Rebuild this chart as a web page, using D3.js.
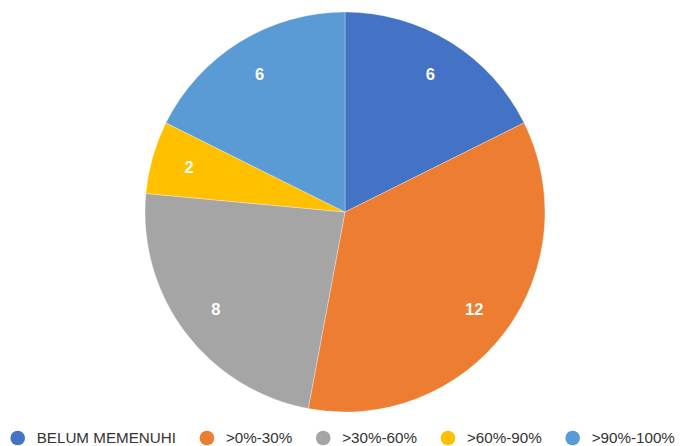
<!DOCTYPE html>
<html>
<head>
<meta charset="utf-8">
<script src="https://cdn.jsdelivr.net/npm/d3@7"></script>
<style>
  body { margin: 0; background: #fff; }
  svg { display: block; font-family: "Liberation Sans", Arial, sans-serif; }
</style>
</head>
<body>
<div id="chart"></div>
<script>
// chart data
var categories = ["BELUM MEMENUHI", ">0%-30%", ">30%-60%", ">60%-90%", ">90%-100%"];
var values = [6, 12, 8, 2, 6];
var colors = ["#4472C4", "#ED7D31", "#A5A5A5", "#FFC000", "#5B9BD5"];

var width = 681, height = 446;
var cx = 345, cy = 212, radius = 200;

var svg = d3.select("#chart").append("svg")
    .attr("width", width)
    .attr("height", height);

var data = categories.map(function(c, i) { return {name: c, value: values[i], color: colors[i]}; });

var pie = d3.pie()
    .sort(null)
    .value(function(d) { return d.value; });

var arc = d3.arc().innerRadius(0).outerRadius(radius);
var labelArc = d3.arc().innerRadius(162).outerRadius(162);

var g = svg.append("g")
    .attr("transform", "translate(" + cx + "," + cy + ")");

var slices = g.selectAll(".slice")
    .data(pie(data))
    .enter().append("g")
    .attr("class", "slice");

slices.append("path")
    .attr("d", arc)
    .attr("fill", function(d) { return d.data.color; })
    .attr("stroke", "#fff")
    .attr("stroke-width", 0.3);

slices.append("text")
    .attr("transform", function(d) { return "translate(" + labelArc.centroid(d) + ")"; })
    .attr("dy", "0.35em")
    .attr("text-anchor", "middle")
    .attr("fill", "#fff")
    .attr("font-weight", "bold")
    .attr("font-size", "16.5px")
    .text(function(d) { return d.data.value; });

// legend along the bottom
var legend = svg.append("g")
    .attr("class", "legend")
    .attr("transform", "translate(0,438)");

var x = 17.7;
data.forEach(function(d) {
  var item = legend.append("g").attr("transform", "translate(" + x + ",0)");
  item.append("circle")
      .attr("r", 7.3)
      .attr("fill", d.color);
  var t = item.append("text")
      .attr("x", 19)
      .attr("dy", "0.35em")
      .attr("font-size", "15.2px")
      .attr("fill", "#333")
      .text(d.name);
  x += 19 + t.node().getComputedTextLength() + 31;
});
</script>
</body>
</html>
